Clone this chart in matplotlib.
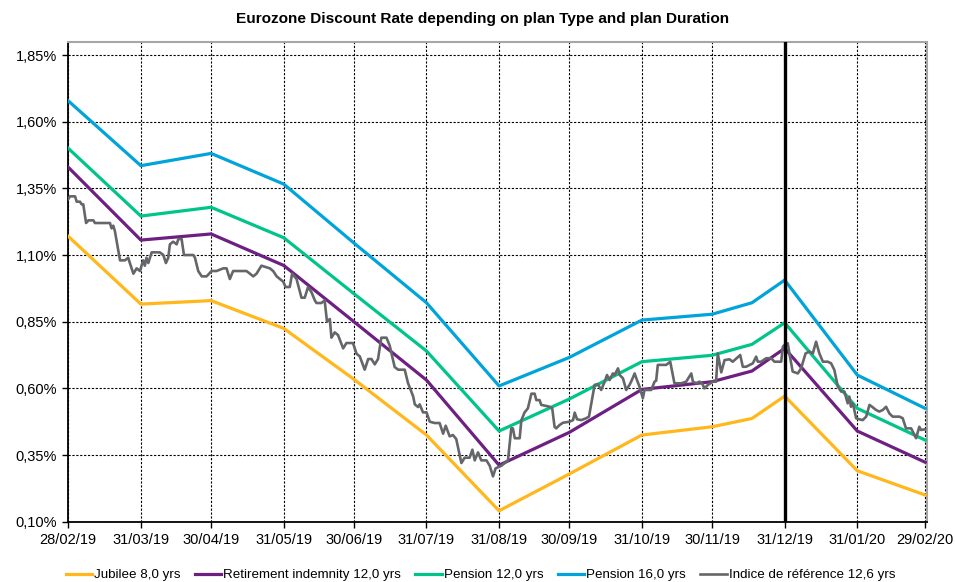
import datetime as dt
import matplotlib
matplotlib.use("Agg")
import matplotlib.pyplot as plt
import matplotlib.dates as mdates
from matplotlib.ticker import FuncFormatter

plt.rcParams['font.family'] = ['Liberation Sans', 'DejaVu Sans']

# month-end points of the discount curves
curve_dates = ['2019-02-28', '2019-03-31', '2019-04-30', '2019-05-31', '2019-06-30',
               '2019-07-31', '2019-08-31', '2019-09-30', '2019-10-31', '2019-11-30',
               '2019-12-17', '2019-12-31', '2020-01-31', '2020-02-29']

jubilee_8 = [1.17, 0.916, 0.929, 0.825, 0.634, 0.425, 0.141, 0.279, 0.425, 0.456,
             0.487, 0.571, 0.291, 0.20]
retirement_12 = [1.429, 1.156, 1.179, 1.061, 0.85, 0.631, 0.312, 0.435, 0.596, 0.625,
                 0.665, 0.75, 0.44, 0.323]
pension_12 = [1.50, 1.246, 1.279, 1.165, 0.955, 0.74, 0.44, 0.56, 0.70, 0.724,
              0.765, 0.846, 0.525, 0.406]
pension_16 = [1.678, 1.435, 1.481, 1.366, 1.145, 0.921, 0.609, 0.716, 0.856, 0.878,
              0.921, 1.006, 0.65, 0.525]

# reference index, days after 28/02/19 and value in %
idx_day = [0, 0.7, 2.9, 3.6, 5.0, 5.7, 6.4, 7.6, 8.6, 10.7, 11.4, 17.8, 18.5, 19.2, 19.9,
           22.1, 24.2, 25.6, 26.3, 27.8, 29.2, 30.6, 31.3, 32.0, 32.7, 33.4, 34.2, 34.9,
           35.6, 39.1, 40.6, 41.7, 42.7, 43.4, 44.8, 46.3, 47.0, 48.4, 49.4, 53.4, 54.1,
           55.5, 57.0, 59.1, 61.2, 63.3, 66.2, 67.6, 69.0, 70.4, 73.3, 76.1, 77.6, 79.0,
           80.4, 81.8, 82.5, 86.1, 87.5, 89.0, 90.4, 91.8, 92.8, 94.6, 95.6, 97.5, 99.6,
           101.0, 102.4, 103.9, 105.3, 106.0, 108.1, 109.5, 110.5, 111.7, 112.4, 113.8,
           115.2, 117.4, 118.8, 121.6, 123.1, 124.5, 126.6, 128.1, 129.5, 130.9, 132.3,
           133.7, 135.9, 137.3, 139.4, 140.9, 143.7, 145.1, 147.3, 148.0, 149.4, 150.1,
           151.5, 153.0, 154.4, 156.5, 158.6, 160.1, 161.2, 162.9, 164.3, 165.7, 167.9,
           169.3, 171.4, 172.6, 173.6, 175.0, 176.4, 178.6, 180.0, 181.4, 182.5, 185.0,
           186.4, 187.8, 188.5, 189.2, 189.9, 190.7, 192.8, 193.5, 194.9, 196.3, 197.8,
           199.2, 199.9, 201.3, 202.0, 204.2, 205.6, 206.7, 207.7, 208.4, 209.9, 211.3,
           214.1, 215.6, 216.3, 217.3, 219.1, 221.2, 222.4, 223.4, 224.8, 226.2, 227.6,
           229.1, 230.1, 231.2, 232.6, 233.3, 234.8, 235.5, 236.9, 238.3, 239.7, 240.4,
           241.9, 242.9, 244.0, 245.4, 246.1, 247.6, 249.0, 250.4, 251.1, 251.8, 253.3,
           255.4, 257.1, 258.2, 258.9, 261.8, 263.9, 266.1, 266.8, 268.2, 269.6, 270.7,
           271.7, 273.2, 275.3, 276.7, 277.4, 278.9, 280.3, 282.4, 283.8, 285.5, 287.0,
           288.1, 289.5, 292.4, 293.8, 294.5, 295.9, 298.1, 300.2, 301.6, 303.0, 304.5,
           305.2, 306.2, 307.3, 308.0, 309.4, 311.6, 313.0, 314.9, 316.6, 318.0, 319.4,
           320.8, 322.3, 324.4, 325.8, 327.2, 328.7, 330.1, 331.5, 332.9, 333.6, 334.3,
           335.1, 336.5, 337.9, 339.3, 340.8, 342.2, 343.3, 345.0, 346.4, 347.9, 349.3,
           350.7, 352.1, 355.0, 356.4, 357.8, 360.0, 362.1, 363.5, 364.2, 365.6, 366.0]
idx_val = [1.31, 1.32, 1.32, 1.30, 1.30, 1.29, 1.29, 1.22, 1.23, 1.23, 1.22, 1.22, 1.20, 1.21, 1.19,
           1.08, 1.08, 1.09, 1.07, 1.03, 1.05, 1.04, 1.06, 1.08, 1.06, 1.09, 1.07, 1.09,
           1.11, 1.11, 1.10, 1.07, 1.09, 1.14, 1.15, 1.14, 1.16, 1.16, 1.10, 1.10, 1.09,
           1.04, 1.02, 1.02, 1.04, 1.04, 1.05, 1.05, 1.01, 1.04, 1.04, 1.04, 1.03, 1.02,
           1.03, 1.05, 1.06, 1.05, 1.04, 1.02, 1.01, 1.00, 0.98, 0.98, 1.03, 1.01, 0.94,
           0.94, 0.98, 0.96, 0.93, 0.92, 0.92, 0.93, 0.85, 0.86, 0.79, 0.81,
           0.80, 0.75, 0.77, 0.77, 0.73, 0.72, 0.67, 0.71, 0.71, 0.69, 0.71,
           0.79, 0.79, 0.76, 0.68, 0.67, 0.67, 0.62, 0.57, 0.54, 0.53, 0.54,
           0.51, 0.51, 0.475, 0.47, 0.47, 0.43, 0.46, 0.42, 0.425, 0.41, 0.32,
           0.34, 0.34, 0.37, 0.33, 0.36, 0.33, 0.33, 0.31, 0.27, 0.30, 0.31,
           0.32, 0.33, 0.39, 0.45, 0.45, 0.413, 0.413, 0.48, 0.51, 0.525, 0.58,
           0.58, 0.556, 0.556, 0.538, 0.534, 0.531, 0.525, 0.456, 0.45, 0.463, 0.471,
           0.475, 0.481, 0.509, 0.484, 0.481, 0.488, 0.494, 0.544, 0.613, 0.616, 0.594,
           0.625, 0.65, 0.631, 0.656, 0.65, 0.675, 0.65, 0.638, 0.594, 0.613, 0.625,
           0.656, 0.631, 0.606, 0.563, 0.594, 0.594, 0.594, 0.625, 0.629, 0.688, 0.688,
           0.688, 0.70, 0.65, 0.619, 0.619, 0.625, 0.656, 0.625, 0.619, 0.625, 0.619,
           0.60, 0.613, 0.625, 0.625, 0.731, 0.66, 0.706, 0.709, 0.70, 0.713, 0.725,
           0.681, 0.681, 0.694, 0.719, 0.70, 0.70, 0.713, 0.713, 0.70, 0.70, 0.70,
           0.756, 0.766, 0.769, 0.731, 0.663, 0.656, 0.675, 0.731, 0.738, 0.731, 0.775,
           0.731, 0.70, 0.70, 0.694, 0.669, 0.606, 0.588, 0.588, 0.544, 0.569, 0.531,
           0.544, 0.488, 0.484, 0.481, 0.494, 0.538, 0.531, 0.519, 0.513, 0.519, 0.531,
           0.506, 0.494, 0.494, 0.488, 0.45, 0.45, 0.413, 0.456, 0.444, 0.446, 0.446]

tick_dates = ['2019-02-28', '2019-03-31', '2019-04-30', '2019-05-31', '2019-06-30',
              '2019-07-31', '2019-08-31', '2019-09-30', '2019-10-31', '2019-11-30',
              '2019-12-31', '2020-01-31', '2020-02-29']
y_ticks = [0.10, 0.35, 0.60, 0.85, 1.10, 1.35, 1.60, 1.85]

start = dt.datetime(2019, 2, 28)
cx = [dt.datetime.strptime(d, '%Y-%m-%d') for d in curve_dates]
ix = [start + dt.timedelta(days=d) for d in idx_day]
tx = [dt.datetime.strptime(d, '%Y-%m-%d') for d in tick_dates]

fig = plt.figure(figsize=(9.55, 5.82), dpi=100)
ax = fig.add_axes([0.0715, 0.1036, 0.899, 0.8248])

ax.plot(cx, jubilee_8, color='#FFB71B', lw=2.3, label='Jubilee 8,0 yrs', zorder=3)
ax.plot(cx, retirement_12, color='#6E1F82', lw=2.3, label='Retirement indemnity 12,0 yrs', zorder=3)
ax.plot(cx, pension_12, color='#00C48A', lw=2.3, label='Pension 12,0 yrs', zorder=3)
ax.plot(cx, pension_16, color='#00A3DA', lw=2.3, label='Pension 16,0 yrs', zorder=3)
ax.plot(ix, idx_val, color='#646669', lw=1.9, label='Indice de référence 12,6 yrs', zorder=4)

# year end marker
ax.axvline(dt.datetime(2019, 12, 31), color='black', lw=2.4, zorder=5)

ax.set_xlim(start, start + dt.timedelta(days=366.7))
ax.set_ylim(0.10, 1.90)
ax.set_xticks(tx)
ax.xaxis.set_major_formatter(mdates.DateFormatter('%d/%m/%y'))
ax.set_yticks(y_ticks)
ax.yaxis.set_major_formatter(FuncFormatter(lambda v, p: f'{v:.2f}'.replace('.', ',') + '%'))
ax.tick_params(labelsize=10.5, length=4, width=1, color='black', pad=4)
ax.grid(True, color='black', ls=(0, (2, 1.5)), lw=0.8)

ax.spines['left'].set_color('black')
ax.spines['left'].set_linewidth(1.3)
ax.spines['bottom'].set_color('black')
ax.spines['bottom'].set_linewidth(1.3)
for s in ['top', 'right']:
    ax.spines[s].set_color('#A6A6A6')
    ax.spines[s].set_linewidth(1.5)

fig.text(0.505, 0.968, 'Eurozone Discount Rate depending on plan Type and plan Duration',
         ha='center', va='center', fontsize=11.1, fontweight='bold')

fig.legend(loc='center', bbox_to_anchor=(0.503, 0.012), ncol=5, frameon=False,
           fontsize=9.6, handlelength=2.0, handletextpad=0.15, columnspacing=1.05)

fig.savefig('out.png', dpi=100)
